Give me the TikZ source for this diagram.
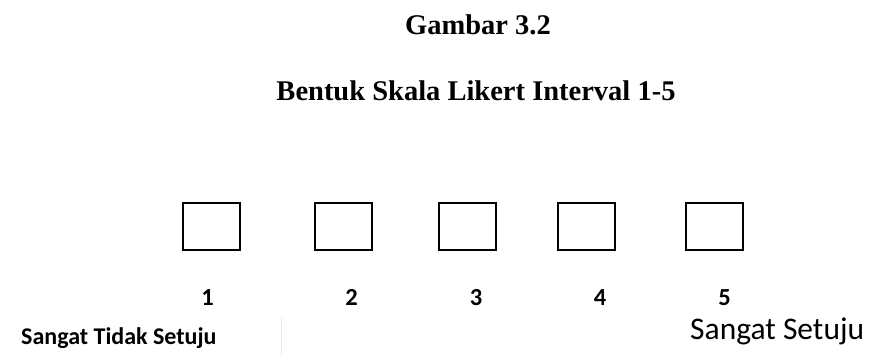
\documentclass[tikz,border=0pt]{standalone}
\usepackage{fontspec}
\setmainfont{Liberation Serif}
\newfontfamily\calib{Carlito}
\begin{document}
\begin{tikzpicture}[x=1pt,y=-1pt,
  scalebox/.style={draw=black,line width=1.6pt,minimum width=57pt,minimum height=47pt,inner sep=0pt,anchor=north west},
  digit/.style={inner sep=0pt,anchor=base,font=\calib\bfseries\fontsize{24.5}{28}\selectfont},
  titletext/.style={inner sep=0pt,anchor=base,font=\bfseries\fontsize{28.5}{32}\selectfont}]
\useasboundingbox (0,0) rectangle (869,356);
\node[titletext] (t1) at (478,34) {Gambar 3.2};
\node[titletext] (t2) at (476,100) {Bentuk Skala Likert Interval 1-5};
\node[scalebox] (b1) at (182,202) {};
\node[scalebox] (b2) at (314,202) {};
\node[scalebox] (b3) at (438,202) {};
\node[scalebox] (b4) at (557,202) {};
\node[scalebox] (b5) at (685,202) {};
\node[digit] (n1) at (207.5,305) {1};
\node[digit] (n2) at (351.5,305) {2};
\node[digit] (n3) at (476,305) {3};
\node[digit] (n4) at (600,305) {4};
\node[digit] (n5) at (724.5,305) {5};
\node[inner sep=0pt,anchor=base west,font=\calib\bfseries\fontsize{24}{28}\selectfont] (lo) at (21,344) {Sangat Tidak Setuju};
\node[inner sep=0pt,anchor=base west,font=\calib\fontsize{31.5}{34}\selectfont] (hi) at (690,339) {Sangat Setuju};
\coordinate (ltop) at (281,318);
\coordinate (lbot) at (281,356);
\draw[black!8,line width=0.8pt] (ltop) -- (lbot);
\end{tikzpicture}
\end{document}
